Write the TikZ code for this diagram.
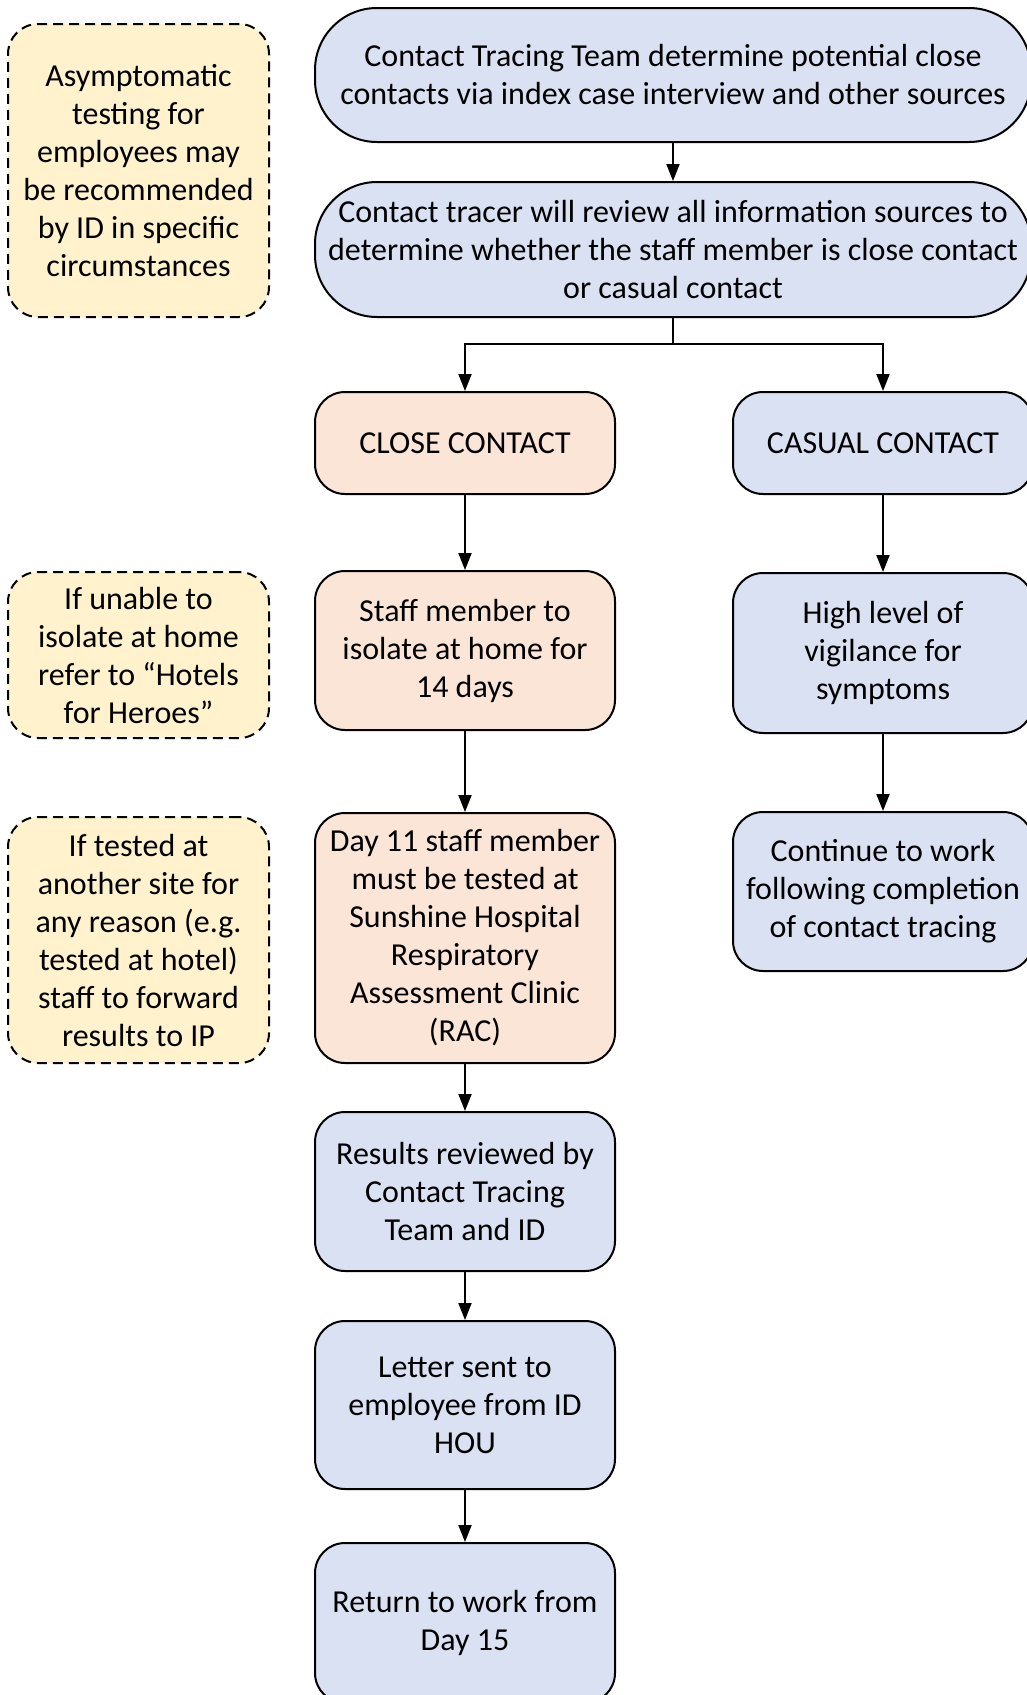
\documentclass[tikz,border=0pt]{standalone}
\usepackage{fontspec}
\setmainfont{Carlito}
\usetikzlibrary{arrows.meta}

\definecolor{stepblue}{RGB}{218,225,243}
\definecolor{steporange}{RGB}{251,229,214}
\definecolor{noteyellow}{RGB}{255,242,204}

\tikzset{
  flowbox/.style={draw=black, line width=2pt, rounded corners=30pt, align=center,
    inner sep=0pt, minimum width=300pt, font=\fontsize{32}{38}\selectfont},
  bluebox/.style={flowbox, fill=stepblue},
  orangebox/.style={flowbox, fill=steporange},
  notebox/.style={flowbox, fill=noteyellow, dash pattern=on 10pt off 6pt, minimum width=261pt},
  stadium/.style={bluebox, rounded corners=62pt, minimum width=716pt},
  flowarrow/.style={line width=2pt, -{Triangle[length=17pt,width=13pt]}}
}

\begin{document}
\begin{tikzpicture}[x=1pt,y=-1pt]
            \clip (0,0) rectangle (1027,1695);

            \node[stadium, minimum height=134pt] (trace) at (673,75) {Contact Tracing Team determine potential close\\contacts via index case interview and other sources};
            \node[stadium, minimum height=135pt] (review) at (673,249.5) {Contact tracer will review all information sources to\\determine whether the staff member is close contact\\or casual contact};

            \node[orangebox, minimum height=102pt] (close) at (465,443) {CLOSE CONTACT};
            \node[bluebox, minimum height=102pt] (casual) at (883,443) {CASUAL CONTACT};

            \node[orangebox, minimum height=159pt] (isolate) at (465,650.5) {Staff member to\\isolate at home for\\14 days};
            \node[bluebox, minimum height=160pt] (vigilance) at (883,653) {High level of\\vigilance for\\symptoms};

            \node[orangebox, minimum height=250pt] (dayeleven) at (465,938) {Day 11 staff member\\must be tested at\\Sunshine Hospital\\Respiratory\\Assessment Clinic\\(RAC)};
            \node[bluebox, minimum height=159pt] (continue) at (883,891.5) {Continue to work\\following completion\\of contact tracing};

            \node[bluebox, minimum height=159pt] (results) at (465,1191.5) {Results reviewed by\\Contact Tracing\\Team and ID};
            \node[bluebox, minimum height=168pt] (letter) at (465,1405) {Letter sent to\\employee from ID\\HOU};
            \node[bluebox, minimum height=160pt] (return) at (465,1623) {Return to work from\\Day 15};

            \node[notebox, minimum height=293pt] (asymptomatic) at (138.5,170.5) {Asymptomatic\\testing for\\employees may\\be recommended\\by ID in specific\\circumstances};
            \node[notebox, minimum height=166pt] (hotels) at (138.5,655) {If unable to\\isolate at home\\refer to “Hotels\\for Heroes”};
            \node[notebox, minimum height=246pt] (elsewhere) at (138.5,940) {If tested at\\another site for\\any reason (e.g.\\tested at hotel)\\staff to forward\\results to IP};

            \coordinate (split) at (673,344);
            \draw[flowarrow] (trace) -- (review);
            \draw[line width=2pt] (review.south) -- (split);
            \draw[flowarrow] (split) -| (close.north);
            \draw[flowarrow] (split) -| (casual.north);

            \draw[flowarrow] (close) -- (isolate);
            \draw[flowarrow] (isolate) -- (dayeleven);
            \draw[flowarrow] (dayeleven) -- (results);
            \draw[flowarrow] (results) -- (letter);
            \draw[flowarrow] (letter) -- (return);

            \draw[flowarrow] (casual) -- (vigilance);
            \draw[flowarrow] (vigilance) -- (continue);
        \end{tikzpicture}
\end{document}
